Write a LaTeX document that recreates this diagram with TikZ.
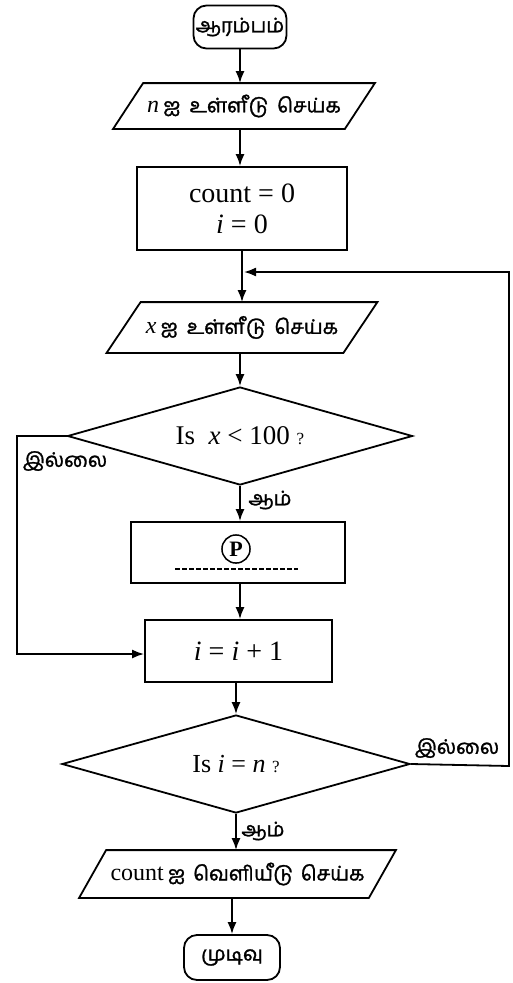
\documentclass[tikz,border=0pt]{standalone}
\usepackage{fontspec}
\setmainfont{Liberation Serif}
\newfontfamily\tamil[Script=Tamil,FakeBold=1.5]{Hind Madurai}
\usetikzlibrary{shapes.geometric,arrows.meta,calc}
\newcommand\paraout[2]{\draw ($(#1.north west)+(#2,0)$) -- ($(#1.north east)+(#2,0)$) -- ($(#1.south east)-(#2,0)$) -- ($(#1.south west)-(#2,0)$) -- cycle;}
\newcommand\ta[1]{{\tamil\fontsize{20}{24}\selectfont #1}}
\newcommand\gap{\hspace{9pt}}
\begin{document}
\begin{tikzpicture}[x=1pt,y=-1pt,line width=1.8pt,
  arr/.style={-{Latex[length=12pt,width=9pt]}},
  term/.style={draw,rounded corners=13pt,inner sep=0pt,font=\tamil\fontsize{20}{24}\selectfont},
  proc/.style={draw,inner sep=0pt,align=center,font=\fontsize{28}{32}\selectfont},
  io/.style={inner sep=0pt,font=\fontsize{24}{28}\selectfont},
  dec/.style={draw,diamond,aspect=3.5,inner sep=0pt,font=\fontsize{27}{32}\selectfont},
  lab/.style={inner sep=0pt,font=\tamil\fontsize{20}{24}\selectfont}]
\useasboundingbox (0,0) rectangle (512,983);
\fill[white] (0,0) rectangle (512,983);

\node[term,minimum width=93pt,minimum height=43pt] (start) at (240,27) {ஆரம்பம்};
\node[io,minimum width=230pt,minimum height=44pt] (in1) at (244,106) {\textit{n}\,\ta{ஐ}\gap\ta{உள்ளீடு}\gap\ta{செய்க}};
\paraout{in1}{15}
\node[proc,minimum width=210pt,minimum height=83pt] (init) at (242,208.5) {count = 0\\[-1pt]\textit{i} = 0};
\node[io,minimum width=235pt,minimum height=49pt] (in2) at (242,327.5) {\textit{x}\,\ta{ஐ}\gap\ta{உள்ளீடு}\gap\ta{செய்க}};
\paraout{in2}{17}
\node[dec,minimum width=345pt,minimum height=98pt] (d1) at (240,436) {Is\ \ \textit{x} < 100 {\fontsize{17}{18}\selectfont ?}};
\node[draw,inner sep=0pt,minimum width=214pt,minimum height=61pt] (pbox) at (238,552.5) {};
\node[draw,circle,line width=1.5pt,inner sep=3pt,font=\bfseries\fontsize{22}{24}\selectfont] (pc) at (236,549) {P};
\coordinate (dl) at (175,569);
\coordinate (dr) at (298,569);
\draw[line width=1.3pt,dash pattern=on 5pt off 2pt] (dl) -- (dr);
\node[proc,minimum width=187pt,minimum height=62pt] (inc) at (238.5,651) {\textit{i} = \textit{i} + 1};
\node[dec,minimum width=348pt,minimum height=98pt,font=\fontsize{26}{30}\selectfont] (d2) at (236,764) {Is\ \textit{i} = \textit{n} {\fontsize{17}{18}\selectfont ?}};
\node[io,minimum width=288pt,minimum height=46pt] (out) at (237.5,874) {count\,\ta{ஐ}\hspace{8pt}\ta{வெளியீடு}\hspace{8pt}\ta{செய்க}};
\paraout{out}{13.5}
\node[term,minimum width=96pt,minimum height=45pt] (stop) at (232,957.5) {முடிவு};

% main flow
\draw[arr] (start.south) -- (start.south |- in1.north);
\draw[arr] (in1.south -| start.south) -- (start.south |- init.north);
\draw[arr] (init.south) -- (init.south |- in2.north);
\draw[arr] (in2.south -| d1.north) -- (d1.north);
\draw[arr] (d1.south) -- (d1.south |- pbox.north);
\draw[arr] (pbox.south -| d1.south) -- (d1.south |- inc.north);
\draw[arr] (inc.south -| d2.north) -- (d2.north);
\draw[arr] (d2.south) -- (d2.south |- out.north);
\draw[arr] (out.south -| stop.north) -- (stop.north);

% loops
\coordinate (r1) at (509,766);
\coordinate (r2) at (509,272);
\coordinate (mg) at (244,272);
\draw[arr] (d2.east) -- (r1) -- (r2) -- (mg);
\coordinate (l1) at (17,436);
\coordinate (l2) at (17,654);
\draw[arr] (d1.west) -- (l1) -- (l2) -- (inc.west |- l2);

% labels
\node[lab] (no1) at (65,461) {இல்லை};
\node[lab] (no2) at (457,748) {இல்லை};
\node[lab] (yes1) at (270,500) {ஆம்};
\node[lab] (yes2) at (263,831) {ஆம்};
\end{tikzpicture}
\end{document}
